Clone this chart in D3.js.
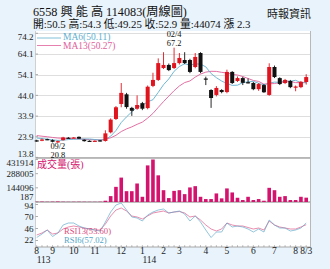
<!DOCTYPE html>
<html><head><meta charset="utf-8">
<script src="https://cdn.jsdelivr.net/npm/d3@7"></script>
<style>
html,body{margin:0;padding:0;background:#e8f3fb;overflow:hidden;}
svg{display:block;font-family:"Liberation Serif","Noto Sans CJK TC",serif;}
</style></head><body>
<svg id="c" width="330" height="269"></svg>
<script>
// ---- data ----
const weeks = [
 "113/08/3","113/08/4","113/08/5",
 "113/09/1","113/09/2","113/09/3","113/09/4",
 "113/10/1","113/10/2","113/10/3","113/10/4",
 "113/11/1","113/11/2","113/11/3","113/11/4","113/11/5",
 "113/12/1","113/12/2","113/12/3","113/12/4",
 "114/01/1","114/01/2","114/01/3","114/01/4",
 "114/02/2","114/02/3","114/02/4",
 "114/03/1","114/03/2","114/03/3","114/03/4","114/03/5",
 "114/04/1","114/04/2","114/04/3","114/04/4",
 "114/05/1","114/05/2","114/05/3","114/05/4","114/05/5",
 "114/06/1","114/06/2","114/06/3","114/06/4",
 "114/07/1","114/07/2","114/07/3","114/07/4",
 "114/08/1","114/08/2","114/08/3"];
const open  = [22.1,21.9,22.7,22.2,21.1,22.2,23.4,23.3,23.8,22.4,21.9,21.8,22.1,21.8,26.0,32.5,39.8,44.5,37.9,37.5,40.2,37.8,48.6,51.5,57.3,58.8,57.3,59.7,61.2,61.2,57.8,64.6,52.2,46.6,44.2,46.6,45.6,55.4,51.0,52.4,50.4,50.0,47.0,49.0,44.2,57.8,52.4,50.0,51.0,47.8,48.0,50.5];
const high  = [22.4,23.0,22.9,22.6,22.0,23.8,23.7,23.7,24.0,22.6,22.1,22.1,22.3,27.0,32.8,38.8,50.0,45.2,38.4,44.0,40.8,48.8,55.0,62.0,65.0,59.5,67.2,64.6,65.0,61.8,64.6,65.0,53.1,47.0,48.5,47.0,56.5,55.8,53.2,53.0,52.2,50.5,50.0,49.5,59.6,58.5,52.8,52.0,51.5,48.8,51.0,54.3];
const low   = [21.4,21.7,22.2,21.1,20.8,22.0,23.0,23.1,22.8,21.5,21.6,21.6,21.5,21.5,25.5,32.0,38.2,37.5,34.0,37.0,36.8,37.2,48.0,51.0,56.8,55.8,56.8,59.0,59.2,54.8,57.2,54.8,49.0,37.9,43.5,45.0,45.0,49.5,50.5,49.0,49.8,46.5,46.2,45.2,43.8,52.4,49.0,49.5,47.5,46.0,47.5,49.25];
const close = [21.6,22.5,22.5,21.4,21.7,23.5,23.2,23.5,22.9,21.7,21.8,21.9,21.7,25.5,32.2,38.2,45.2,38.3,36.5,39.3,37.5,48.2,51.5,59.7,58.8,56.3,59.7,62.2,59.7,55.4,62.7,55.4,51.8,42.7,47.6,45.6,55.4,50.0,52.4,50.1,50.0,47.0,49.5,45.5,57.8,52.9,49.5,51.5,48.0,48.3,50.6,52.9];
const priorCloses = [26.5,26.0,25.8,25.5,25.0,24.8,24.5,24.2,24.0,23.6,23.2,22.8];
const volume = [3000,4000,2500,3500,5000,3000,2000,2500,3000,2500,2000,2000,3000,13000,60000,154000,248000,110000,110000,188000,53000,372000,431914,271000,120000,40000,113000,120000,80000,148000,161000,53000,30000,30000,87000,37000,138000,97000,43000,20000,53000,20000,30000,13000,144000,120000,53000,60000,20000,20000,53000,44074];
const rsi6  = [28,35,43,30,37,53,57,57,51,47,45,43,41,59,79,93,97,83,69,67,61,73,79,83,85,77,79,81,75,61,71,59,43,28,39,39,57,49,51,49,45,39,45,39,63,53,47,47,41,43,47,57.02];
const rsi13 = [33,37,43,35,37,45,49,51,49,47,45,43,43,55,71,83,87,81,71,69,65,71,77,79,81,77,79,80,77,69,71,63,53,45,41,45,57,53,51,51,48,45,47,43,61,53,49,47,45,45,49,53.60];
const priceTicks = [74.2,64.1,54.1,44.0,33.9,23.9,13.8];
const volTicks = [431914,288005,144096,187];
const rsiTicks = [94,70,46,22];
const monthTickWeeks  = ["113/08/3","113/09/1","113/10/1","113/11/1","113/12/1","114/01/1","114/02/2","114/03/1","114/04/1","114/05/1","114/06/1","114/07/1","114/08/1","114/08/3"];
const monthTickLabels = ["8","9","10","11","12","1","2","3","4","5","6","7","8","8/3"];
const yearTickWeeks  = ["113/08/3","114/01/1"];
const yearTickLabels = ["113","114"];
const titleText = "6558 興 能 高 114083(周線圖)";
const infoText = "開:50.5 高:54.3 低:49.25 收:52.9 量:44074 漲 2.3";
const sourceText = "時報資訊";
const maLabels = ["MA6(50.11)","MA13(50.27)"];
const rsiLabels = ["RSI13(53.60)","RSI6(57.02)"];
const volLabel = "成交量(張)";
const hiNote = ["02/4","67.2"], hiWeek = "114/02/4";
const loNote = ["09/2","20.8"], loWeek = "113/09/2";

// ---- layout ----
const svg = d3.select("#c");
const L = 35.5, R = 310.5, T = 31, B = 247;
const C = {red:"#e0141e", black:"#111", ma6:"#5fb0cf", ma13:"#e0609a", vol:"#d4136e",
           r13:"#dc4b80", r6:"#55a6c8", grid:"#dedede", sep:"#a8a8a8", text:"#222"};

const x = d3.scalePoint().domain(weeks).range([36.7, 306.2]);
const y = d3.scaleLinear().domain([13.8, 74.2]).range([157.4, 33.3]);
const yv = d3.scaleLinear().domain([0, 431914]).range([202, 159.5]);
const yr = d3.scaleLinear().domain([22, 94]).range([240.5, 204.5]);

svg.append("rect").attr("x",L).attr("y",T).attr("width",R-L).attr("height",B-T).attr("fill","#fff");

// price grid
svg.append("g").selectAll("line").data(priceTicks).join("line")
  .attr("x1",L).attr("x2",R).attr("y1",d=>Math.round(y(d))+0.5).attr("y2",d=>Math.round(y(d))+0.5)
  .attr("stroke",C.grid).attr("stroke-width",1);

// separators and borders
[158, 202].forEach(v=>svg.append("line").attr("x1",L).attr("x2",R).attr("y1",v).attr("y2",v)
  .attr("stroke",C.sep).attr("stroke-width",1.5));
svg.append("line").attr("x1",L).attr("x2",R).attr("y1",B).attr("y2",B).attr("stroke",C.sep).attr("stroke-width",1);
svg.append("line").attr("x1",R).attr("x2",R).attr("y1",T).attr("y2",B).attr("stroke","#b8b8b8").attr("stroke-width",1);
svg.append("line").attr("x1",L).attr("x2",L).attr("y1",T).attr("y2",B).attr("stroke","#d0d0d0").attr("stroke-width",1);

// moving averages
const allC = priorCloses.concat(close);
function ma(n){ return close.map((c,i)=>d3.mean(allC.slice(i+priorCloses.length-n+1, i+priorCloses.length+1))); }
const ma6 = ma(6), ma13 = ma(13);
const line = sc => d3.line().x((d,i)=>x(weeks[i])).y(d=>sc(d));
svg.append("path").attr("d",line(y)(ma13)).attr("fill","none").attr("stroke",C.ma13).attr("stroke-width",0.9);
svg.append("path").attr("d",line(y)(ma6)).attr("fill","none").attr("stroke",C.ma6).attr("stroke-width",0.9);

// candles
const cw = 4;
const cg = svg.append("g").selectAll("g").data(weeks).join("g");
cg.append("line").attr("x1",(d)=>x(d)).attr("x2",(d)=>x(d))
  .attr("y1",(d,i)=>y(high[i])).attr("y2",(d,i)=>y(low[i]))
  .attr("stroke",(d,i)=>close[i]>=open[i]?C.red:C.black).attr("stroke-width",0.9);
cg.append("rect").attr("x",d=>x(d)-cw/2).attr("width",cw)
  .attr("y",(d,i)=>y(Math.max(open[i],close[i])))
  .attr("height",(d,i)=>Math.max(1.2, Math.abs(y(open[i])-y(close[i]))))
  .attr("fill",(d,i)=>close[i]>=open[i]?C.red:C.black);

// volume bars
svg.append("g").selectAll("rect").data(weeks).join("rect")
  .attr("x",d=>x(d)-1.8).attr("width",3.6)
  .attr("y",(d,i)=>yv(volume[i])).attr("height",(d,i)=>202-yv(volume[i]))
  .attr("fill",C.vol);

// RSI
svg.append("path").attr("d",line(yr)(rsi13)).attr("fill","none").attr("stroke",C.r13).attr("stroke-width",0.8).attr("opacity",0.8);
svg.append("path").attr("d",line(yr)(rsi6)).attr("fill","none").attr("stroke",C.r6).attr("stroke-width",0.8).attr("opacity",0.8);

// y labels
const lab = svg.append("g").attr("font-size",9).attr("fill",C.text).attr("text-anchor","end");
lab.selectAll(".p").data(priceTicks).join("text").attr("x",33.5)
  .attr("y",d=>Math.min(153.5,Math.max(37,y(d)))).attr("dy","0.35em").text(d=>d.toFixed(1));
lab.selectAll(".v").data(volTicks).join("text").attr("x",33.5)
  .attr("y",d=>Math.min(197,Math.max(163,yv(d)))).attr("dy","0.35em").text(d=>d);
lab.selectAll(".r").data(rsiTicks).join("text").attr("x",33.5)
  .attr("y",d=>Math.min(240,Math.max(205.5,yr(d)))).attr("dy","0.35em").text(d=>d);

// left ticks
svg.append("g").selectAll("line").data(priceTicks.map(y).concat(volTicks.map(yv), rsiTicks.map(yr))).join("line")
  .attr("x1",L).attr("x2",L+2.5).attr("y1",d=>d).attr("y2",d=>d).attr("stroke","#999").attr("stroke-width",0.8);

// x ticks
svg.append("g").selectAll("line").data(weeks).join("line")
  .attr("x1",d=>x(d)).attr("x2",d=>x(d)).attr("y1",B).attr("y2",B-1.8).attr("stroke","#999").attr("stroke-width",0.7);
const xl = svg.append("g").attr("font-size",9.5).attr("fill",C.text);
xl.selectAll(".m").data(monthTickWeeks).join("text").attr("x",d=>x(d)).attr("y",254)
  .attr("text-anchor","middle").text((d,i)=>monthTickLabels[i]);
xl.selectAll(".yr").data(yearTickWeeks).join("text").attr("x",d=>x(d)).attr("y",263)
  .attr("text-anchor","start").text((d,i)=>yearTickLabels[i]);

// titles
svg.append("text").attr("x",33).attr("y",15.5).attr("font-size",12.2).attr("fill","#111").text(titleText);
svg.append("text").attr("x",33).attr("y",28).attr("font-size",10.8).attr("fill","#111").text(infoText);
svg.append("text").attr("x",311).attr("y",17.5).attr("font-size",11).attr("fill","#222").attr("text-anchor","end").text(sourceText);

// MA legend
[[C.ma6,38,40],[C.ma13,45.5,48.5]].forEach((c,i)=>{
  svg.append("line").attr("x1",37).attr("x2",61).attr("y1",c[1]).attr("y2",c[1]).attr("stroke",c[0]).attr("stroke-width",0.8);
  svg.append("text").attr("x",63).attr("y",c[2]).attr("font-size",9.5).attr("fill",c[0]).text(maLabels[i]);
});
// RSI legend
svg.append("text").attr("x",64).attr("y",233.6).attr("font-size",8.6).attr("fill",C.r13).text(rsiLabels[0]);
svg.append("text").attr("x",64).attr("y",243.2).attr("font-size",8.6).attr("fill",C.r6).text(rsiLabels[1]);
// volume label
svg.append("text").attr("x",37).attr("y",168).attr("font-size",10).attr("fill",C.vol).text(volLabel);

// high / low notes
const nt = svg.append("g").attr("font-size",8.4).attr("fill","#111").attr("text-anchor","middle");
nt.append("text").attr("x",x(hiWeek)).attr("y",36.5).text(hiNote[0]);
nt.append("text").attr("x",x(hiWeek)).attr("y",46).text(hiNote[1]);
nt.append("text").attr("x",x(loWeek)).attr("y",149).text(loNote[0]);
nt.append("text").attr("x",x(loWeek)).attr("y",158.4).text(loNote[1]);
</script>
</body></html>
